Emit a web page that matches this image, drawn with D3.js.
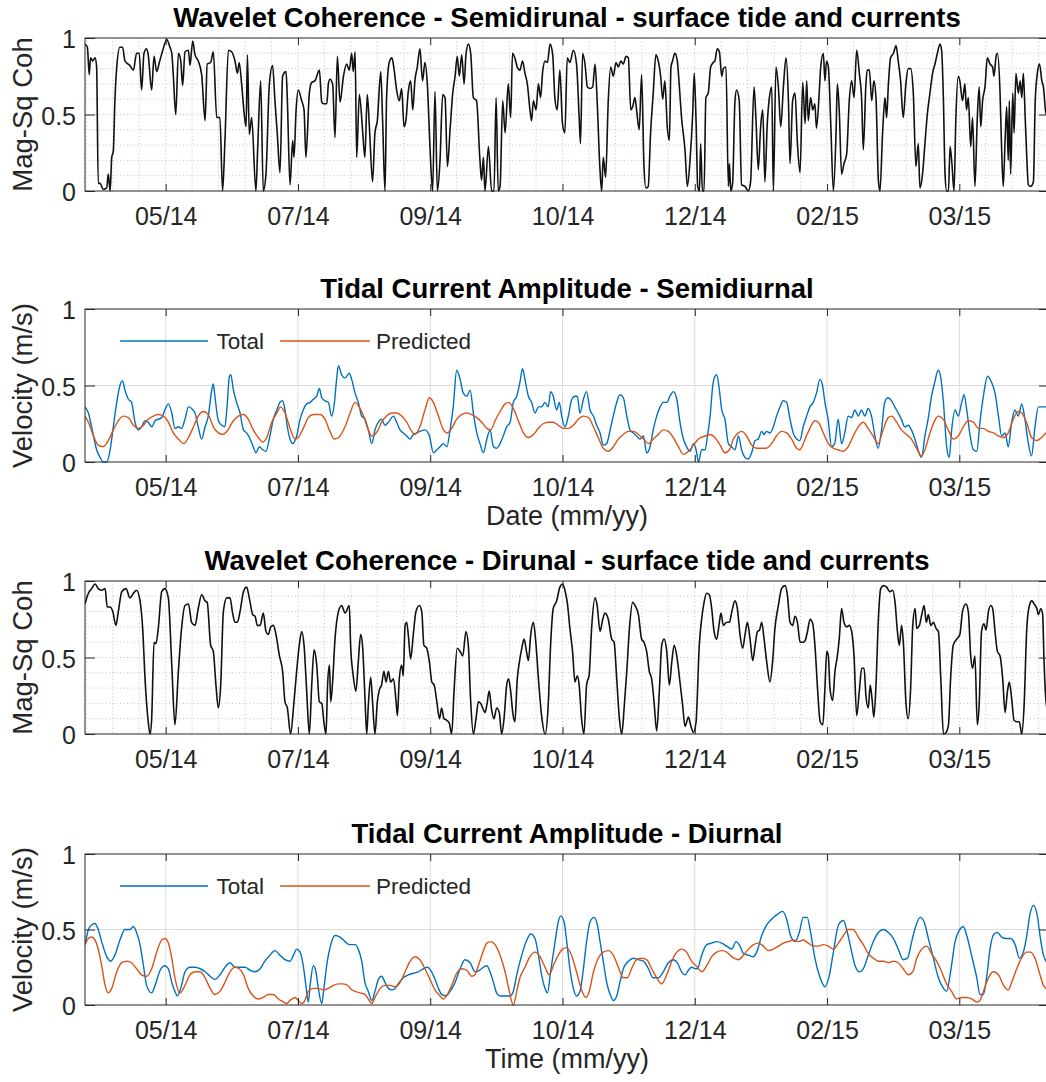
<!DOCTYPE html>
<html><head><meta charset="utf-8">
<script src="https://cdn.jsdelivr.net/npm/d3@7"></script>
<style>body{margin:0;background:#fff}svg{display:block;font-family:"Liberation Sans",Arial,Helvetica,sans-serif}</style>
</head><body><svg id="c" width="1046" height="1082"></svg>
<script>
// ---- time axis (days counted from the left edge of every panel) ----
const startMs = Date.UTC(2014, 3, 28, 12);
const spanDays = 364.4;
const tickDates = ["2014-05-29","2014-07-18","2014-09-06","2014-10-26","2014-12-15","2015-02-03","2015-03-25"];
const tickLabels = ["05/14","07/14","09/14","10/14","12/14","02/15","03/15"];
const yTicks = [0, 0.5, 1];
const yTickLabels = ["0", "0.5", "1"];
const legendNames = ["Total", "Predicted"];

// ---- series: [day, value] ----
const semiCoh = [[0,.96],[0.9,.94],[1.6,.76],[2.1,.87],[2.9,.85],[3.8,.87],[4.4,.81],[5.0,.05],[5.7,.05],[6.9,.01],[8.2,.02],[8.8,.11],[9.5,0],[10.1,.22],[10.7,.26],[11.3,.59],[12.0,.81],[13.2,.94],[14.2,.94],[15.1,.85],[17.0,.82],[18.3,.79],[19.5,.9],[20.5,.9],[21.4,.66],[22.3,.9],[23.3,.93],[23.9,.89],[25.2,.66],[26.1,.88],[27.1,.78],[28.1,.84],[29.4,.92],[30.9,.99],[32.1,.94],[32.8,.9],[33.4,.75],[34.3,.5],[35.3,.9],[36.2,.85],[36.9,.69],[37.8,.91],[39.1,.92],[39.7,.82],[40.7,.98],[41.6,.89],[42.8,.85],[44.1,.76],[45.4,.46],[46.2,.83],[47.5,.84],[48.5,.91],[49.8,.48],[51.0,.48],[52.0,0],[52.9,.33],[54.2,.92],[55.4,.91],[56.7,.85],[57.6,.77],[58.3,.84],[59.2,.7],[60.2,.5],[60.9,.42],[61.4,.89],[62.1,.37],[63.0,.48],[64.6,0],[65.3,.29],[66.4,.72],[67.4,0],[68.4,.11],[69.7,.7],[70.9,.82],[71.8,.59],[72.7,.37],[73.7,.12],[74.7,.75],[76.0,.78],[76.5,.59],[77.5,.04],[78.5,.33],[79.0,.22],[79.8,.53],[80.6,.66],[81.9,.59],[82.8,.53],[83.5,.22],[84.8,.64],[85.7,.71],[86.9,.72],[88.6,.79],[89.5,.58],[90.3,.57],[91.4,.57],[92.0,.7],[92.6,.73],[93.6,.7],[94.5,.35],[95.4,.88],[96.4,.58],[97.7,.75],[98.9,.83],[99.9,.79],
[100.8,.9],[101.4,.78],[102.1,.91],[102.7,.22],[103.7,.63],[105.0,.38],[105.8,.22],[106.7,.63],[107.5,.42],[108.7,.06],[109.6,.38],[110.5,.46],[111.8,.78],[112.5,.46],[113.4,0],[114.0,.61],[115.0,.84],[116.0,.87],[116.8,.8],[117.8,.66],[118.8,.59],[119.7,.67],[120.6,.42],[121.3,.46],[122.2,.65],[123.1,.72],[123.9,.53],[124.7,.72],[125.6,.81],[126.6,.93],[127.6,.72],[128.5,.84],[129.4,.7],[130.4,.29],[131.4,0],[132.3,.65],[133.2,0],[134.2,.2],[135.2,.63],[136.1,.61],[137.0,.16],[138.0,.4],[139.0,.64],[139.9,.75],[140.7,.88],[141.5,.75],[142.4,.89],[143.3,.7],[144.0,.89],[144.9,.96],[145.8,.9],[146.8,.61],[148.0,.59],[149.3,.2],[149.9,.07],[150.6,.22],[151.2,0],[152.5,.29],[153.7,0],[154.6,0],[155.4,.61],[156.2,0],[156.9,.03],[157.9,.59],[158.8,.38],[160.0,.7],[160.9,.48],[161.6,.9],[162.5,.87],[163.4,.81],[164.4,.79],[165.4,.85],[166.3,.77],[167.2,.7],[168.2,.53],[168.8,.46],[169.5,.59],[170.5,.53],[171.4,.7],[172.2,.61],[173.0,.78],[173.9,.85],[174.8,.84],[175.8,.96],[176.8,.89],[177.6,.61],[178.5,.53],[179.5,.79],[180.5,.44],[181.4,.38],[182.3,.87],[183.3,.84],[184.6,.92],[185.8,.83],[186.8,.48],[187.3,.31],[188.1,.9],[189.0,.83],[189.9,.68],[190.9,.67],[191.9,.68],[192.8,.83],[193.6,.59],[194.6,.16],[195.3,0],[195.9,.22],[196.8,.09],[197.8,.59],[198.7,.81],[199.7,.75],[200.7,.84],[201.6,.81],[202.5,.85],[203.5,.83],[204.5,.88],[205.4,.87],[206.3,.53],[207.0,.55],[207.9,.61],[208.5,.53],[209.5,.4],[210.4,.76],[211.3,.16],[212.0,.02],[212.9,.03],[213.8,.38],[214.8,.64],[215.8,.89],[216.7,.85],[217.6,.75],[218.4,.6],[219.2,.72],[220.1,.42],[220.9,.33],[221.5,.81],[222.1,.85],[223.0,.9],[223.9,.85],[224.6,.7],[225.5,.48],[226.8,.27],[227.7,.03],[228.7,.2],[229.7,.5],[230.3,.77],[231.0,.45],[231.6,.03],[232.3,0],[232.7,.31],
[233.4,0],[234.0,0],[234.7,.61],[235.6,.64],[236.5,.81],[237.5,.84],[238.1,.85],[239.0,.93],[239.8,.91],[240.7,.75],[241.3,.8],[242.3,.81],[243.2,.03],[243.6,.18],[244.1,0],[244.8,.05],[245.7,.59],[246.3,.66],[247.3,.59],[248.2,.04],[249.5,.03],[250.7,0],[251.6,.06],[252.9,.68],[253.6,.48],[254.5,.14],[255.4,.42],[256.2,.53],[257.0,.06],[257.9,.44],[258.7,.61],[259.6,.68],[260.2,0],[261.2,.81],[262.1,.68],[263.0,.42],[264.0,.68],[265.0,.87],[265.9,.59],[266.5,.18],[267.5,.59],[268.4,.64],[269.3,.31],[270.3,.12],[271.3,.71],[272.2,.44],[272.8,.72],[273.4,.46],[274.3,.61],[275.1,.53],[275.9,.57],[276.5,.41],[277.6,.66],[278.1,.81],[279.1,.9],[279.7,.72],[280.3,.85],[281.0,.81],[281.9,.44],[282.9,0],[283.9,.38],[284.4,.7],[285.1,.53],[286.0,.11],[286.9,.18],[287.9,.24],[288.9,.59],[289.8,.72],[290.7,.61],[291.7,.92],[292.7,.77],[293.6,.59],[294.2,.27],[295.2,.7],[295.7,.79],[296.5,.79],[297.4,.59],[298.2,.72],[299.0,.61],[299.9,.07],[300.5,0],[301.5,.38],[302.4,.61],[303.0,.48],[303.7,.7],[304.5,.87],[305.6,.9],[306.6,.95],[307.4,.85],[308.3,.72],[309.3,.48],[310.3,.7],[311.2,.8],[312.1,.8],[313.1,.64],[314.1,.16],[315.0,.31],[315.6,.02],[316.6,.11],[317.5,.31],[318.4,.5],[319.4,.64],[320.4,.77],[321.3,.83],[322.2,.9],[323.2,.96],[323.8,.92],[324.5,.59],[325.1,.11],[325.7,0],[326.4,0],[327.0,.29],[327.7,.18],[328.5,0],[329.2,.48],[330.1,.75],[330.7,.72],[331.7,.59],[332.6,.7],[333.2,.53],[333.9,.61],[334.8,.29],[335.5,.48],[336.4,.03],[337.3,.48],[338.0,.68],[338.6,.42],[339.3,.59],[340.2,.68],[341.1,.87],[342.1,.83],[343.1,.81],[343.6,.75],[344.4,.88],[344.9,.9],[345.9,.64],[346.5,.27],[347.1,.03],[347.8,.33],[348.4,.55],[349.0,.2],[349.4,.59],[349.9,.11],[350.7,.64],[351.2,.38],[351.9,.77],[352.8,.64],[353.5,.72],[354.1,.61],[354.7,.77],[355.4,.48],[356.0,.22],[356.6,.04],[357.5,.03],[358.5,.06],[359.2,.59],[360.0,.77],[360.8,.83],[361.7,.72],[362.3,.68],[363.3,.5],[364.5,.55]];

const semiTotal = [[0,.36],[1.3,.32],[2.5,.23],[4.4,.08],[5.7,.03],[6.9,0],[8.2,0],[9.5,.08],[10.7,.23],[12.0,.39],[13.2,.5],[14.2,.53],[15.1,.47],[16.4,.41],[17.6,.39],[18.9,.26],[20.2,.21],[21.4,.23],[22.7,.27],[23.9,.26],[25.2,.23],[26.5,.27],[27.7,.28],[29.0,.29],[30.2,.34],[31.5,.38],[32.8,.32],[34.0,.22],[35.3,.23],[36.5,.22],[37.8,.28],[39.1,.36],[40.3,.35],[41.6,.32],[42.8,.23],[44.1,.15],[45.4,.23],[46.6,.3],[47.9,.47],[48.5,.51],[49.1,.43],[50.4,.27],[51.7,.24],[52.9,.23],[53.6,.34],[54.6,.56],[55.1,.57],[56.1,.47],[57.3,.39],[58.6,.32],[59.9,.21],[61.1,.19],[62.4,.15],[63.6,.1],[64.6,.06],[65.9,.1],[67.2,.08],[68.4,.07],[69.9,.17],[71.2,.28],[72.5,.34],[73.7,.39],[74.7,.4],[75.6,.34],[76.5,.23],[77.5,.15],[78.5,.12],[80.0,.17],[81.3,.28],[82.5,.34],[83.8,.38],[85.1,.39],[86.3,.41],[87.6,.43],[88.6,.48],[89.5,.42],[90.7,.4],[92.0,.39],[93.2,.3],[94.3,.39],[95.1,.54],[95.8,.63],[97.0,.57],[98.3,.55],[99.9,.58],
[100.8,.54],[102.1,.45],[103.3,.39],[104.6,.3],[105.8,.28],[107.1,.21],[108.4,.12],[109.6,.21],[110.9,.26],[112.1,.28],[113.4,.24],[114.7,.26],[116.6,.3],[117.8,.26],[119.1,.21],[120.3,.19],[121.6,.17],[122.9,.15],[124.1,.18],[125.4,.19],[126.6,.2],[128.5,.21],[130.2,.17],[131.7,.06],[133.0,.08],[134.2,.1],[135.5,.12],[136.8,.1],[138.0,.21],[139.2,.36],[140.5,.6],[141.8,.54],[143.0,.45],[144.3,.43],[145.6,.47],[146.8,.32],[148.1,.19],[149.3,.12],[150.6,.06],[151.9,.15],[153.1,.21],[154.4,.1],[155.6,.09],[156.9,.12],[158.1,.17],[159.4,.23],[160.7,.26],[161.9,.39],[163.2,.43],[164.4,.52],[165.4,.61],[166.3,.54],[167.6,.43],[168.8,.39],[170.1,.32],[171.4,.36],[172.6,.36],[173.9,.39],[175.1,.36],[176.0,.46],[177.0,.43],[178.3,.34],[179.3,.39],[180.2,.3],[181.4,.23],[182.7,.3],[184.0,.41],[185.2,.43],[186.1,.43],[187.1,.32],[188.4,.41],[189.6,.46],[190.9,.34],[192.2,.3],[193.4,.24],[194.7,.19],[195.9,.11],[197.2,.12],[198.5,.21],[199.7,.3],[201.0,.39],[202.2,.44],[203.5,.42],[204.8,.3],[206.0,.21],[207.3,.19],[208.5,.17],[209.8,.15],[211.1,.17],[212.3,.06],[213.6,.1],[214.8,.21],[216.1,.3],[217.4,.36],[218.6,.39],[219.9,.39],[221.1,.43],[222.4,.46],[223.7,.41],[224.9,.26],[226.2,.15],[227.4,.1],[228.7,.07],[230.0,.12],[231.0,.08],[231.9,0],
[233.1,.08],[234.4,.08],[235.3,.17],[236.3,.3],[237.3,.5],[238.1,.56],[238.8,.57],[239.8,.47],[240.7,.34],[241.9,.28],[243.2,.12],[244.4,.1],[245.7,.08],[247.0,.17],[248.2,.08],[249.5,.03],[250.7,.02],[252.0,.06],[253.3,.14],[254.5,.15],[255.8,.2],[256.7,.18],[257.6,.2],[258.9,.19],[260.2,.23],[261.4,.3],[262.7,.36],[263.9,.4],[265.2,.39],[266.5,.28],[267.7,.19],[269.0,.15],[270.2,.14],[271.5,.23],[272.8,.3],[274.0,.36],[275.3,.39],[276.5,.45],[277.8,.54],[278.8,.5],[279.7,.39],[280.9,.28],[282.2,.1],[283.4,.12],[284.7,.28],[286.0,.12],[287.2,.19],[288.5,.3],[289.8,.29],[291.0,.34],[292.3,.3],[293.5,.34],[294.8,.3],[296.0,.35],[297.3,.3],[298.6,.17],[299.8,.09],[301.1,.21],[302.3,.39],[303.6,.42],[304.9,.4],[306.1,.36],[307.4,.32],[308.6,.28],[309.9,.23],[311.2,.24],[312.4,.21],[313.7,.15],[314.9,.08],[316.2,.03],[317.5,.17],[318.7,.28],[320.0,.43],[321.2,.52],[322.5,.6],[323.4,.56],[324.5,.39],[325.7,.1],[326.7,.03],[327.6,.21],[328.9,.34],[330.1,.3],[331.4,.39],[332.3,.44],[333.3,.34],[334.6,.17],[335.8,.08],[337.1,.07],[338.3,.26],[339.6,.43],[341.2,.56],[342.7,.52],[344.0,.45],[345.3,.3],[346.5,.17],[347.8,.19],[349.0,.1],[350.3,.26],[351.5,.34],[352.8,.3],[354.1,.38],[355.3,.28],[356.6,.12],[357.8,.04],[359.1,.23],[360.4,.36],[361.6,.36],[363.3,.36],[364.5,.36]];

const semiPred = [[0,.3],[1.3,.26],[3.2,.17],[5.0,.11],[6.9,.1],[8.8,.14],[10.7,.21],[12.6,.27],[14.5,.3],[16.4,.29],[18.3,.24],[20.2,.22],[22.1,.24],[23.9,.28],[25.8,.3],[27.7,.31],[29.6,.3],[31.5,.26],[33.4,.19],[35.3,.15],[37.4,.12],[39.1,.16],[41.0,.23],[42.8,.3],[44.7,.33],[46.6,.31],[48.5,.23],[50.4,.19],[52.0,.18],[53.6,.2],[56.1,.27],[58.0,.3],[59.9,.31],[61.7,.28],[63.6,.21],[65.5,.16],[67.2,.13],[68.7,.16],[70.6,.26],[72.5,.32],[74.0,.36],[75.6,.32],[77.5,.22],[79.4,.15],[80.6,.16],[82.5,.22],[84.4,.29],[86.3,.31],[88.8,.31],[90.7,.28],[92.6,.2],[94.2,.15],[95.8,.16],[98.3,.23],
[100.2,.32],[102.1,.39],[103.3,.37],[105.3,.3],[107.1,.21],[108.4,.17],[110.5,.2],[112.1,.26],[114.0,.3],[115.9,.32],[117.8,.32],[119.7,.3],[121.6,.26],[123.5,.2],[124.7,.18],[126.6,.23],[128.5,.34],[130.2,.42],[131.7,.39],[133.6,.3],[135.5,.21],[137.0,.19],[138.6,.22],[140.5,.28],[142.4,.31],[144.3,.32],[146.2,.31],[148.1,.29],[150.0,.26],[151.9,.22],[153.4,.21],[155.0,.27],[156.9,.33],[158.8,.38],[160.1,.39],[161.9,.35],[163.8,.27],[165.7,.19],[167.6,.16],[169.5,.18],[171.4,.22],[173.2,.25],[175.1,.26],[177.0,.26],[178.9,.24],[180.8,.22],[182.7,.22],[184.6,.24],[186.5,.28],[188.4,.3],[190.3,.29],[192.2,.23],[194.0,.16],[195.9,.09],[197.8,.07],[199.7,.1],[201.6,.15],[203.5,.18],[205.4,.2],[207.3,.2],[209.2,.18],[211.1,.15],[213.0,.12],[214.8,.15],[216.7,.18],[218.6,.21],[220.5,.2],[222.4,.16],[224.3,.1],[226.2,.05],[228.1,.07],[230.0,.11],[231.9,.15],
[234.4,.17],[236.3,.18],[238.1,.16],[240.1,.11],[241.9,.06],[243.6,.08],[245.1,.15],[247.0,.19],[248.2,.2],[250.1,.17],[252.0,.11],[253.9,.09],[255.8,.09],[257.6,.09],[259.5,.12],[261.4,.17],[263.3,.2],[265.2,.19],[267.1,.15],[269.0,.09],[270.2,.08],[272.2,.15],[274.0,.22],[275.9,.27],[277.2,.26],[279.1,.19],[281.0,.12],[282.9,.09],[284.7,.08],[286.6,.07],[288.5,.1],[290.4,.17],[292.3,.23],[294.2,.26],[296.0,.22],[297.9,.17],[299.8,.12],[301.7,.21],[303.6,.29],[304.9,.3],[306.8,.26],[308.6,.21],[310.5,.18],[312.4,.15],[314.3,.09],[316.2,.04],[317.5,.08],[319.4,.19],[321.2,.27],[322.5,.3],[324.4,.28],[326.3,.21],[328.2,.15],[330.1,.17],[332.0,.23],[333.9,.27],[335.8,.26],[337.7,.22],[339.6,.22],[341.5,.2],[343.4,.19],[345.3,.17],[347.1,.16],[349.0,.19],[350.9,.28],[352.8,.33],[354.1,.32],[355.9,.26],[357.8,.16],[359.7,.14],[361.6,.16],[363.3,.19],[364.5,.2]];

const diurCoh = [[0,.85],[1.3,.92],[2.5,.95],[3.8,.98],[5.0,.95],[6.3,.94],[7.6,.95],[8.4,.83],[9.5,.83],[10.5,.8],[11.7,.71],[12.6,.8],[13.9,.93],[15.5,.95],[17.0,.89],[18.3,.92],[19.5,.94],[20.8,.87],[21.8,.69],[22.7,.36],[23.9,.08],[24.6,0],[25.2,.1],[26.1,.6],[26.8,.59],[27.7,.69],[29.0,.93],[30.2,.95],[31.5,.89],[32.8,.45],[34.0,.06],[35.3,.41],[36.5,.69],[37.8,.84],[39.1,.85],[40.3,.73],[41.6,.71],[42.8,.82],[44.1,.91],[45.4,.87],[46.2,.86],[47.5,.58],[48.5,.54],[49.5,.32],[50.4,.17],[51.3,.32],[52.3,.8],[53.6,.89],[54.8,.89],[55.8,.79],[56.7,.73],[57.6,.73],[58.6,.8],[59.9,.93],[61.1,.96],[62.1,.89],[63.4,.78],[64.3,.77],[65.1,.71],[66.2,.71],[67.4,.79],[68.4,.67],[69.3,.65],[70.2,.7],[71.2,.71],[72.2,.65],[73.5,.51],[74.7,.41],[75.6,.21],[76.5,.17],[77.7,0],[79.0,.21],[80.0,.41],[81.0,.58],[81.9,.67],[82.8,.58],[83.8,.28],[84.8,0],[85.7,.32],[86.6,.55],[87.6,.45],[88.6,.21],[89.5,.2],[90.3,.08],[91.1,0],[91.7,.32],[92.4,.45],[92.9,.21],[93.6,.34],[94.5,.62],[95.8,.8],[97.0,.84],[98.3,.79],[99.9,.84],
[100.4,.58],[101.4,.38],[102.4,.28],[103.3,.47],[104.2,.65],[104.9,.58],[105.8,.25],[106.5,0],[107.1,.19],[108.0,.37],[108.7,.21],[109.6,0],[110.5,.21],[111.3,.29],[112.1,.32],[113.0,.41],[113.8,.34],[114.7,.41],[115.5,.34],[116.6,.36],[117.6,.21],[118.1,.12],[118.8,.36],[119.7,.45],[120.3,.38],[121.0,.71],[121.6,.73],[122.2,.65],[123.1,.49],[124.1,.65],[125.1,.8],[126.4,.84],[127.3,.8],[128.1,.58],[129.2,.56],[130.2,.47],[131.1,.34],[132.0,.32],[133.0,.21],[134.0,.1],[134.8,.17],[135.7,.1],[136.7,.09],[137.7,.07],[138.6,0],[139.5,.28],[140.7,.56],[141.8,.54],[142.8,.51],[144.0,.67],[144.9,.58],[145.8,.21],[146.8,0],[147.8,.1],[148.7,.21],[149.6,.2],[150.3,.17],[151.2,.14],[151.9,.19],[152.8,.28],[153.7,.16],[154.6,.1],[155.6,.17],[156.6,.14],[157.5,0],[158.4,.1],[159.4,.32],[160.1,.36],[160.9,.28],[161.7,.14],[162.5,.08],[163.4,.36],[164.2,.47],[165.1,.56],[166.0,.62],[166.7,.56],[167.6,.48],[168.5,.65],[169.5,.73],[170.5,.58],[171.4,.36],[172.6,.12],[173.9,0],[175.1,.19],[176.0,.58],[177.0,.82],[178.3,.87],[179.5,.96],[180.5,.98],[181.4,.94],[182.3,.86],[183.3,.69],[184.3,.54],[185.2,.34],[186.1,.38],[186.8,.32],[187.7,.1],[188.6,0],[189.6,.32],[190.6,.39],[191.5,.69],[192.8,.89],[193.6,.84],[194.7,.67],[195.7,.75],[196.6,.79],[197.8,.75],[199.1,.62],[200.0,.6],[201.0,.36],[202.0,.1],[202.9,0],[203.8,.17],[204.8,.41],[205.8,.69],[207.0,.86],[207.9,.84],[209.2,.78],[210.4,.62],[211.3,.6],[212.3,.54],[213.3,.41],[214.2,.36],[215.1,.21],[216.1,.02],[217.1,.28],[218.0,.58],[218.9,.62],[219.9,.54],[220.9,.32],[221.8,.47],[222.7,.58],[223.7,.51],[224.9,.34],[225.9,.19],[226.8,.05],[228.1,.11],[228.9,.06],[230.0,.01],[231.0,.08],
[231.2,.14],[232.2,.58],[233.1,.75],[234.0,.86],[235.0,.92],[236.0,.91],[236.9,.82],[237.8,.67],[238.8,.62],[239.8,.73],[240.4,.79],[241.3,.71],[242.6,.73],[243.6,.73],[244.5,.8],[245.7,.87],[246.6,.82],[247.6,.65],[248.6,.56],[249.5,.65],[250.4,.73],[251.4,.62],[252.4,.48],[253.3,.58],[254.2,.67],[255.0,.68],[255.8,.73],[256.7,.62],[257.7,.47],[258.9,.34],[259.9,.47],[260.8,.69],[262.1,.84],[263.3,.95],[264.6,.97],[265.5,.91],[266.5,.73],[267.5,.71],[268.4,.77],[269.3,.73],[270.3,.6],[271.3,.6],[272.2,.61],[273.1,.67],[274.1,.75],[275.1,.72],[276.0,.56],[276.9,.3],[277.9,.08],[278.9,.06],[279.7,.3],[280.4,.54],[281.0,.51],[281.6,.3],[282.6,.22],[283.5,.41],[284.4,.51],[285.1,.62],[286.0,.82],[286.9,.73],[287.9,.7],[288.9,.71],[289.8,.67],[290.7,.51],[291.7,.12],[292.7,.28],[293.6,.43],[294.5,.43],[295.2,.25],[296.1,.17],[296.8,.32],[297.5,.23],[298.2,.11],[299.0,.32],[299.9,.75],[300.8,.95],[301.8,.97],[303.0,.96],[304.3,.93],[305.3,.94],[306.2,.86],[307.1,.67],[307.8,.58],[308.7,.71],[309.4,.58],[310.3,.21],[311.2,.1],[312.1,.3],[312.9,.71],[313.8,.82],[314.4,.69],[315.4,.71],[316.3,.78],[317.2,.84],[318.0,.73],[318.8,.78],[319.7,.71],[320.7,.73],[321.7,.69],[322.6,.67],[323.5,.36],[324.5,0],[325.5,.01],[326.4,.06],[327.2,.36],[328.2,.58],[329.5,.62],[330.7,.65],[331.7,.8],[333.0,.85],[333.9,.8],[334.8,.51],[335.5,.43],[336.4,.51],[337.3,.06],[338.0,.19],[338.9,.67],[339.8,.72],[340.6,.68],[341.5,.8],[342.4,.84],[343.1,.82],[344.0,.67],[344.9,.54],[345.9,.51],[346.9,.36],[347.8,.14],[348.7,.28],[349.4,.34],[350.3,.23],[351.2,.09],[352.2,.08],[353.2,.08],[354.1,0],[355.0,.19],[356.0,.69],[357.0,.84],[357.9,.87],[358.8,.85],[359.8,.82],[360.4,.78],[361.3,.82],[362.0,.78],[362.5,.49],[363.3,.21],[364.5,.12]];

const diurTotal = [[0,.4],[1.3,.5],[2.5,.53],[3.8,.54],[5.0,.5],[6.3,.42],[8.2,.32],[9.7,.29],[11.3,.33],[13.2,.43],[15.1,.5],[17.0,.5],[18.3,.52],[19.5,.48],[20.8,.4],[22.1,.26],[23.3,.13],[25.2,.08],[26.5,.13],[28.4,.23],[30.2,.26],[31.5,.24],[32.8,.15],[34.0,.09],[34.9,.06],[36.5,.13],[37.8,.22],[39.7,.25],[41.6,.25],[43.5,.24],[45.4,.22],[47.3,.19],[49.1,.17],[51.0,.2],[52.9,.25],[54.8,.28],[56.7,.25],[58.6,.25],[60.5,.25],[62.4,.23],[64.3,.22],[66.2,.24],[68.0,.29],[69.9,.33],[71.8,.36],[73.7,.33],[75.6,.3],[77.5,.29],[78.8,.33],[80.0,.37],[81.3,.35],[82.5,.26],[83.5,.13],[84.4,.02],[85.1,.13],[86.3,.26],[87.3,.22],[88.2,.11],[89.5,.01],[90.3,.11],[91.6,.29],[92.9,.4],[94.5,.46],[96.4,.45],[98.3,.42],[99.9,.4],
[102.1,.4],[103.3,.37],[104.6,.29],[105.8,.15],[107.1,.09],[108.4,.03],[109.6,.09],[110.9,.17],[112.1,.19],[113.4,.15],[114.7,.11],[116.0,.1],[117.2,.11],[118.4,.14],[120.3,.18],[122.2,.2],[124.1,.21],[126.0,.22],[127.9,.24],[129.4,.25],[131.0,.22],[132.3,.17],[133.6,.11],[134.8,.07],[136.5,.06],[138.0,.09],[139.9,.15],[141.8,.24],[143.6,.3],[145.6,.28],[147.4,.22],[149.1,.23],[150.6,.25],[151.9,.26],[153.1,.22],[154.4,.15],[155.6,.08],[156.9,.06],[158.8,.06],[160.7,.06],[161.9,.09],[163.2,.2],[165.1,.33],[167.0,.43],[168.5,.47],[170.1,.44],[171.4,.33],[172.6,.2],[173.9,.11],[174.8,.08],[176.0,.22],[177.7,.42],[178.9,.55],[179.8,.59],[181.1,.55],[182.1,.42],[183.3,.24],[184.6,.11],[185.8,.06],[187.1,.09],[188.4,.24],[189.6,.42],[190.9,.55],[192.4,.58],[193.7,.53],[194.7,.42],[195.9,.29],[197.2,.15],[198.5,.07],[199.7,.03],[201.0,.06],[202.2,.15],[203.5,.24],[205.4,.29],[207.3,.31],[209.2,.3],[211.1,.29],[213.0,.24],[214.8,.18],[216.7,.18],[218.6,.22],[220.5,.28],[222.4,.3],[223.9,.28],[225.5,.22],[226.8,.2],[228.1,.23],[229.3,.25],[231.0,.24],
[231.5,.24],[233.1,.33],[235.0,.4],[236.9,.41],[238.8,.42],[240.7,.41],[242.6,.39],[244.5,.37],[246.1,.42],[247.6,.39],[248.9,.34],[250.8,.33],[252.7,.32],[253.9,.35],[255.8,.46],[257.7,.53],[259.6,.57],[261.7,.6],[263.7,.62],[265.2,.57],[266.7,.46],[268.4,.42],[270.0,.48],[271.5,.58],[273.0,.58],[274.3,.48],[275.9,.31],[277.9,.18],[279.7,.12],[281.4,.2],[282.9,.35],[284.8,.53],[286.7,.56],[287.9,.5],[289.2,.4],[291.1,.26],[292.7,.22],[294.2,.24],[296.1,.33],[298.0,.42],[299.9,.48],[301.8,.5],[303.7,.48],[305.6,.44],[307.4,.37],[309.3,.3],[310.9,.31],[312.5,.42],[314.2,.53],[315.7,.58],[317.2,.55],[318.8,.44],[320.7,.31],[322.6,.18],[324.5,.11],[325.7,.09],[327.2,.22],[328.9,.42],[330.7,.5],[332.0,.52],[333.3,.46],[335.1,.33],[337.1,.18],[338.3,.07],[339.6,.07],[340.8,.18],[342.1,.37],[343.6,.47],[344.9,.48],[346.5,.45],[348.4,.44],[349.9,.44],[351.6,.4],[353.2,.31],[354.7,.35],[356.0,.46],[357.2,.6],[358.5,.66],[360.0,.59],[361.0,.46],[362.3,.33],[363.3,.29],[364.5,.24]];

const diurPred = [[0,.4],[1.3,.44],[2.5,.45],[3.8,.43],[5.0,.37],[6.3,.26],[7.6,.13],[8.8,.08],[10.1,.11],[12.0,.22],[13.9,.28],[15.8,.29],[17.6,.28],[19.5,.24],[21.4,.2],[23.3,.19],[25.2,.24],[27.1,.35],[29.0,.43],[30.2,.44],[31.5,.41],[32.8,.31],[34.0,.18],[35.9,.08],[37.8,.13],[39.7,.2],[41.6,.22],[43.5,.22],[45.4,.18],[47.3,.11],[49.1,.07],[51.0,.09],[52.9,.15],[54.8,.22],[56.7,.25],[58.3,.24],[59.9,.2],[61.7,.11],[63.6,.06],[65.5,.04],[67.4,.05],[69.3,.07],[71.2,.07],[73.1,.04],[75.0,.02],[76.2,.01],[77.5,.03],[79.4,.05],[80.6,.03],[81.9,.01],[82.8,.02],[84.4,.09],[86.3,.11],[88.2,.11],[90.1,.1],[92.0,.11],[93.9,.13],[95.8,.14],[97.7,.14],[99.9,.12],
[100.2,.11],[102.1,.09],[104.0,.08],[105.8,.07],[107.1,.04],[108.4,.01],[109.6,.05],[111.6,.11],[113.4,.13],[115.3,.13],[117.2,.12],[119.1,.15],[121.0,.22],[122.9,.29],[124.7,.32],[126.6,.3],[128.5,.24],[130.4,.17],[132.3,.1],[134.2,.06],[135.5,.04],[137.0,.07],[138.6,.13],[140.5,.21],[142.4,.24],[144.3,.23],[146.2,.19],[147.4,.2],[148.7,.26],[150.4,.35],[151.9,.41],[153.4,.42],[155.0,.4],[156.9,.33],[158.8,.22],[160.4,.09],[161.9,0],[163.2,.09],[164.4,.18],[166.3,.25],[168.2,.32],[170.1,.35],[172.0,.32],[173.9,.25],[175.5,.2],[177.0,.26],[178.9,.33],[180.5,.37],[182.0,.38],[183.9,.33],[185.8,.22],[187.7,.1],[189.4,.05],[190.6,.09],[192.2,.22],[194.0,.31],[195.9,.35],[197.8,.36],[199.7,.33],[201.6,.25],[203.5,.18],[205.0,.18],[206.6,.24],[208.5,.3],[210.4,.31],[212.3,.3],[214.2,.24],[216.1,.18],[218.0,.14],[219.9,.2],[221.8,.29],[223.7,.35],[225.5,.37],[227.4,.35],[229.3,.29],
[231.5,.25],[233.1,.22],[235.0,.26],[236.9,.32],[238.8,.35],[240.7,.36],[242.6,.35],[244.5,.32],[247.0,.3],[248.9,.33],[250.8,.37],[252.7,.4],[254.6,.41],[256.4,.39],[258.3,.36],[260.2,.37],[262.1,.39],[264.0,.41],[265.9,.42],[267.8,.43],[269.6,.42],[271.5,.43],[273.4,.41],[275.3,.39],[277.2,.39],[279.1,.4],[281.0,.39],[282.9,.37],[284.8,.41],[286.7,.46],[288.5,.5],[290.4,.5],[292.3,.45],[294.2,.4],[296.1,.34],[298.0,.31],[299.9,.29],[301.8,.29],[303.7,.28],[305.6,.29],[307.4,.28],[309.3,.24],[311.2,.2],[312.9,.22],[314.4,.31],[316.3,.37],[318.2,.39],[320.0,.34],[321.9,.29],[323.8,.22],[325.7,.14],[327.6,.09],[329.5,.04],[331.4,.05],[333.3,.05],[335.2,.04],[337.1,.02],[338.3,.03],[339.6,.09],[341.5,.18],[343.4,.22],[345.3,.2],[347.2,.13],[349.0,.1],[350.3,.15],[352.2,.24],[354.0,.31],[355.9,.35],[357.4,.35],[359.1,.31],[361.0,.2],[362.3,.13],[363.3,.11],[364.5,.1]];

// ---- drawing ----
const W = 1046, H = 1082;
const svg = d3.select("#c");
svg.append("rect").attr("width", W).attr("height", H).attr("fill", "#fff");
const X0 = 85, X1 = 1049;
const toDate = d => new Date(startMs + d * 864e5);
const parse = d3.utcParse("%Y-%m-%d");
const x = d3.scaleUtc().domain([toDate(0), toDate(spanDays)]).range([X0, X1]);
const axisColor = "#262626";
const BLUE = "#0072BD", ORANGE = "#D95319";

const panels = [
  {top: 38, bottom: 191, kind: "coh", title: "Wavelet Coherence - Semidirunal - surface tide and currents", ylabel: "Mag-Sq Coh", xlabel: null, series: [{data: semiCoh, color: "#111", w: 1.6}]},
  {top: 309, bottom: 462, kind: "vel", title: "Tidal Current Amplitude - Semidiurnal", ylabel: "Velocity (m/s)", xlabel: "Date (mm/yy)", series: [{data: semiTotal, color: BLUE, w: 1.4}, {data: semiPred, color: ORANGE, w: 1.4}]},
  {top: 581, bottom: 734, kind: "coh", title: "Wavelet Coherence - Dirunal - surface tide and currents", ylabel: "Mag-Sq Coh", xlabel: null, series: [{data: diurCoh, color: "#111", w: 1.6}]},
  {top: 854, bottom: 1005, kind: "vel", title: "Tidal Current Amplitude - Diurnal", ylabel: "Velocity (m/s)", xlabel: "Time (mm/yy)", series: [{data: diurTotal, color: BLUE, w: 1.4}, {data: diurPred, color: ORANGE, w: 1.4}]}
];

const tickDateObjs = tickDates.map(parse);
const defs = svg.append("defs");

panels.forEach((p, i) => {
  const y = d3.scaleLinear().domain([0, 1]).range([p.bottom, p.top]);
  const g = svg.append("g");
  const cid = "clip" + i;
  defs.append("clipPath").attr("id", cid).append("rect")
    .attr("x", X0).attr("y", p.top - 1).attr("width", X1 - X0).attr("height", p.bottom - p.top + 2);

  // grid
  const grid = g.append("g");
  if (p.kind === "coh") {
    const minorDays = d3.range(0.5, spanDays, 10);
    grid.selectAll("line.v").data(minorDays).join("line")
      .attr("x1", d => x(toDate(d))).attr("x2", d => x(toDate(d)))
      .attr("y1", p.top).attr("y2", p.bottom)
      .attr("stroke", "#c4c4c4").attr("stroke-width", 1).attr("stroke-dasharray", "1,2.5");
    grid.selectAll("line.h").data(d3.range(1, 10).map(k => k / 10)).join("line")
      .attr("x1", X0).attr("x2", X1).attr("y1", d => y(d)).attr("y2", d => y(d))
      .attr("stroke", "#c4c4c4").attr("stroke-width", 1).attr("stroke-dasharray", "1,2.5");
  } else {
    grid.selectAll("line.v").data(tickDateObjs).join("line")
      .attr("x1", d => x(d)).attr("x2", d => x(d)).attr("y1", p.top).attr("y2", p.bottom)
      .attr("stroke", "#dcdcdc").attr("stroke-width", 1);
    grid.selectAll("line.h").data([0.5]).join("line")
      .attr("x1", X0).attr("x2", X1).attr("y1", d => y(d)).attr("y2", d => y(d))
      .attr("stroke", "#dcdcdc").attr("stroke-width", 1);
  }

  // series
  const line = d3.line().x(d => x(toDate(d[0]))).y(d => y(d[1])).curve(d3.curveMonotoneX);
  const sg = g.append("g").attr("clip-path", `url(#${cid})`);
  p.series.forEach(s => {
    sg.append("path").datum(s.data).attr("d", line).attr("fill", "none")
      .attr("stroke", s.color).attr("stroke-width", s.w).attr("stroke-linejoin", "round");
  });

  // axes
  const fs = 25;
  const ax = g.append("g").attr("transform", `translate(0,${p.bottom})`)
    .call(d3.axisBottom(x).tickValues(tickDateObjs).tickFormat((d, k) => tickLabels[k]).tickSize(-7).tickSizeOuter(0).tickPadding(16.3));
  const axTop = g.append("g").attr("transform", `translate(0,${p.top})`)
    .call(d3.axisTop(x).tickValues(tickDateObjs).tickFormat("").tickSize(-7).tickSizeOuter(0));
  const ayL = g.append("g").attr("transform", `translate(${X0},0)`)
    .call(d3.axisLeft(y).tickValues(yTicks).tickFormat((d, k) => yTickLabels[k]).tickSize(-10).tickSizeOuter(0).tickPadding(9));
  const ayR = g.append("g").attr("transform", `translate(${X1},0)`)
    .call(d3.axisRight(y).tickValues(yTicks).tickFormat("").tickSize(-10).tickSizeOuter(0));
  [ax, axTop, ayL, ayR].forEach(a => {
    a.select(".domain").remove();
    a.selectAll(".tick line").attr("stroke", axisColor).attr("stroke-width", 1);
    a.selectAll("text").attr("fill", axisColor).attr("font-size", fs)
      .attr("font-family", '"Liberation Sans", Arial, sans-serif');
  });
  ayL.selectAll("text").attr("dy", "0.38em");
  g.append("rect").attr("x", X0).attr("y", p.top).attr("width", X1 - X0).attr("height", p.bottom - p.top)
    .attr("fill", "none").attr("stroke", axisColor).attr("stroke-width", 1);

  // title
  g.append("text").attr("x", (X0 + X1) / 2).attr("y", p.top - 11).attr("text-anchor", "middle")
    .attr("font-size", 27.5).attr("font-weight", "bold").attr("fill", "#000").text(p.title);
  // y label
  g.append("text").attr("transform", `translate(32,${(p.top + p.bottom) / 2}) rotate(-90)`)
    .attr("text-anchor", "middle").attr("font-size", 27.5).attr("fill", axisColor).text(p.ylabel);
  // x label
  if (p.xlabel) {
    g.append("text").attr("x", (X0 + X1) / 2).attr("y", p.bottom + 63).attr("text-anchor", "middle")
      .attr("font-size", 27).attr("fill", axisColor).text(p.xlabel);
  }
  // legend
  if (p.kind === "vel") {
    const ly = p.top + 32;
    const lg = g.append("g");
    const items = [{x1: 120, x2: 208, tx: 216.5, c: BLUE, name: legendNames[0]}, {x1: 280, x2: 370, tx: 376, c: ORANGE, name: legendNames[1]}];
    items.forEach(it => {
      lg.append("line").attr("x1", it.x1).attr("x2", it.x2).attr("y1", ly).attr("y2", ly)
        .attr("stroke", it.c).attr("stroke-width", 1.4);
      lg.append("text").attr("x", it.tx).attr("y", ly + 8.2).attr("font-size", 22.5).attr("fill", axisColor).text(it.name);
    });
  }
});
</script>
</body></html>
